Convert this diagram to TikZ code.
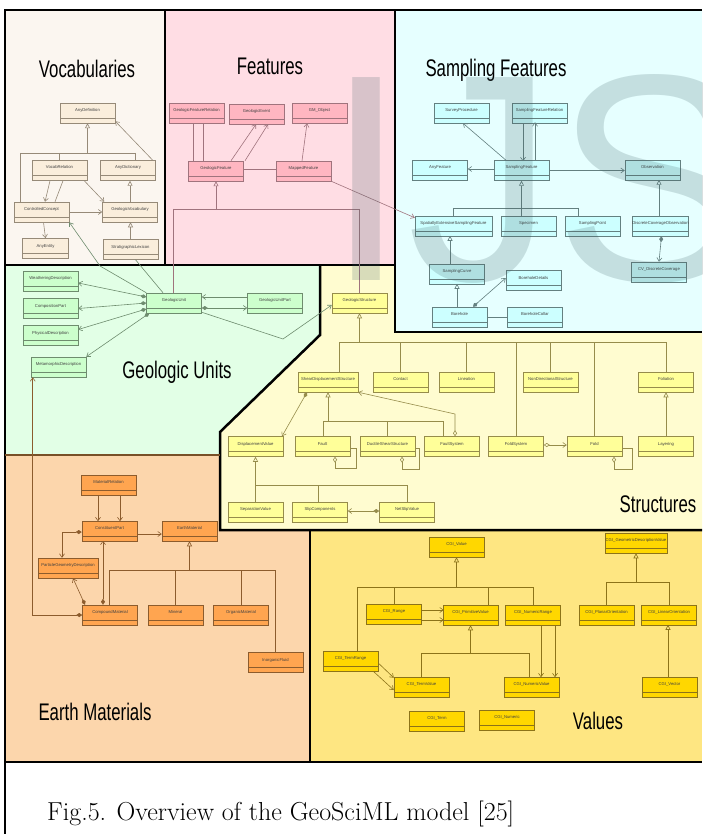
\documentclass[tikz,border=0pt]{standalone}
\usepackage{fontspec}
\newfontfamily\arialfont{Liberation Sans}
\usetikzlibrary{arrows.meta,positioning}
\definecolor{bgvocab}{RGB}{251,246,240}
\definecolor{bgfeat}{RGB}{255,221,228}
\definecolor{bgsamp}{RGB}{230,255,255}
\definecolor{bggeo}{RGB}{226,255,230}
\definecolor{bgstruct}{RGB}{255,252,208}
\definecolor{bgearth}{RGB}{252,214,172}
\definecolor{bgval}{RGB}{254,230,130}
\definecolor{clvocab}{RGB}{250,238,220}
\definecolor{clfeat}{RGB}{255,182,193}
\definecolor{clsamp}{RGB}{204,255,255}
\definecolor{clgeo}{RGB}{204,255,204}
\definecolor{clstruct}{RGB}{255,255,153}
\definecolor{clearth}{RGB}{255,165,80}
\definecolor{clval}{RGB}{255,215,0}
\definecolor{lnvocab}{RGB}{150,138,120}
\definecolor{lnfeat}{RGB}{160,115,125}
\definecolor{lnsamp}{RGB}{100,128,128}
\definecolor{lngeo}{RGB}{110,140,110}
\definecolor{lnstruct}{RGB}{150,140,75}
\definecolor{lnearth}{RGB}{140,92,45}
\definecolor{lnval}{RGB}{140,115,25}
\definecolor{earthedge}{RGB}{120,80,40}
\definecolor{wmark}{RGB}{60,95,100}
\newcommand{\clsfont}{\arialfont\fontsize{4.2}{5}\selectfont}
\newcommand{\titlefont}{\arialfont\fontsize{24}{24}\selectfont}
\newcommand{\regtitle}[1]{\scalebox{0.7}[1]{#1}}

\begin{document}
\begin{tikzpicture}[x=1pt,y=-1pt,node distance=20pt,
  cls/.style 2 args={draw=#2,fill=#1,line width=.5pt,minimum width=55pt,minimum height=20pt,
    inner sep=0pt,text height=3pt,text depth=6pt,font=\clsfont,text=black!75,
    path picture={\draw[#2,line width=.4pt] ([yshift=5pt]path picture bounding box.south west)
      -- ([yshift=5pt]path picture bounding box.south east);}},
  vocabcls/.style={cls={clvocab}{lnvocab}},
  featcls/.style={cls={clfeat}{lnfeat}},
  sampcls/.style={cls={clsamp}{lnsamp}},
  geocls/.style={cls={clgeo}{lngeo}},
  structcls/.style={cls={clstruct}{lnstruct}},
  earthcls/.style={cls={clearth}{lnearth}},
  valcls/.style={cls={clval}{lnval}},
  gen/.style={-{Triangle[open,length=5pt,width=5pt]}},
  nav/.style={-{Straight Barb[length=3.5pt,width=5pt]}},
  comp/.style={{Diamond[length=6pt,width=4pt]}-{Straight Barb[length=3.5pt,width=5pt]}},
  aggr/.style={{Diamond[open,length=6pt,width=4pt]}-{Straight Barb[length=3.5pt,width=5pt]}},
  selfagg/.style={{Diamond[open,length=6pt,width=4pt]}-},
  title/.style={font=\titlefont,inner sep=0pt,anchor=base},
  regionedge/.style={line width=2.5pt,line join=miter}]
  \useasboundingbox (0,0) rectangle (702,834);
  \fill[white] (0,0) rectangle (702,834);
  % regions
  \fill[bgvocab] (5,10) rectangle (165,265);
  \fill[bgfeat] (165,10) rectangle (395,265);
  \fill[bgsamp] (395,10) rectangle (702,332);
  \fill[bggeo] (5,265) -- (320,265) -- (320,335) -- (220,432) -- (220,455) -- (5,455) -- cycle;
  \fill[bgstruct] (320,265) -- (395,265) -- (395,332) -- (702,332) -- (702,530) -- (220,530)
    -- (220,432) -- (320,335) -- cycle;
  \fill[bgearth] (5,455) -- (220,455) -- (220,530) -- (310,530) -- (310,762) -- (5,762) -- cycle;
  \fill[bgval] (310,530) rectangle (702,762);
  \draw[line width=1.2pt] (310,530) -- (310,762);
  \draw[line width=1.2pt] (5,762) -- (702,762);
  \draw[line width=1.2pt] (5,455) -- (5,834);
  \draw[regionedge] (5,10) rectangle (165,265);
  \draw[regionedge] (165,10) rectangle (395,265);
  \draw[regionedge] (395,10) -- (395,332) -- (702,332);
  \draw[regionedge] (395,10) -- (702,10);
  \draw[regionedge] (5,265) -- (5,455);
  \draw[regionedge] (320,265) -- (320,335) -- (220,432) -- (220,530) -- (702,530);
  \draw[earthedge,line width=2pt] (5,455) -- (220,455);

  \node[title] (tVocab) at (87,78) {\regtitle{Vocabularies}};
  \node[title] (tFeat) at (270,75) {\regtitle{Features}};
  \node[title] (tSamp) at (496,77) {\regtitle{Sampling Features}};
  \node[title] (tGeo) at (177,378) {\regtitle{Geologic Units}};
  \node[title] (tStruct) at (658,512) {\regtitle{Structures}};
  \node[title] (tEarth) at (95,720) {\regtitle{Earth Materials}};
  \node[title] (tVal) at (598,729) {\regtitle{Values}};

  % vocabularies
  \node[vocabcls] (anyDef) at (87.5,113) {AnyDefinition};
  \node[vocabcls] (vocabRel) at (59.5,170.5) {VocabRelation};
  \node[vocabcls] (anyDict) at (128,170.5) {AnyDictionary};
  \node[vocabcls] (ctrlConcept) at (41.5,212) {ControlledConcept};
  \node[vocabcls] (geoVocab) at (130,212) {GeologicVocabulary};
  \node[vocabcls,minimum width=46pt] (anyEntity) at (45.5,248.5) {AnyEntity};
  \node[vocabcls] (stratLex) at (130.5,249.5) {StratigraphicLexicon};

  % features
  \node[featcls] (gfRel) at (196.5,113) {GeologicFeatureRelation};
  \node[featcls] (geoEvent) at (256.5,114) {GeologicEvent};
  \node[featcls] (gmObject) at (319.5,113) {GM\_Object};
  \node[featcls] (geoFeature) at (216,171) {GeologicFeature};
  \node[featcls] (mappedFeature) at (303.5,171) {MappedFeature};

  % sampling features
  \node[sampcls] (surveyProc) at (461.5,113) {SurveyProcedure};
  \node[sampcls] (sfRel) at (539.5,113) {SamplingFeatureRelation};
  \node[sampcls] (samplingFeature) at (521.5,170.5) {SamplingFeature};
  \node[sampcls,left=26pt of samplingFeature] (anyFeature) {AnyFeature};
  \node[sampcls] (observation) at (652.5,170.5) {Observation};
  \node[sampcls,minimum width=77pt] (sesf) at (453.5,226) {SpatiallyExtensiveSamplingFeature};
  \node[sampcls] (specimen) at (528.5,226) {Specimen};
  \node[sampcls] (samplingPoint) at (592.5,226) {SamplingPoint};
  \node[sampcls] (dco) at (660.5,226) {DiscreteCoverageObservation};
  \node[sampcls] (samplingCurve) at (457,274) {SamplingCurve};
  \node[sampcls] (boreholeDetails) at (533.5,280.5) {BoreholeDetails};
  \node[sampcls] (cvDC) at (659,272) {CV\_DiscreteCoverage};
  \node[sampcls] (borehole) at (459.5,317) {Borehole};
  \node[sampcls,right=of borehole] (boreholeCollar) {BoreholeCollar};

  % geologic units
  \node[geocls] (weathering) at (50.5,281) {WeatheringDescription};
  \node[geocls] (compositionPart) at (50.5,308.5) {CompositionPart};
  \node[geocls] (physicalDesc) at (50.5,335.5) {PhysicalDescription};
  \node[geocls] (metamorphicDesc) at (58.5,367) {MetamorphicDescription};
  \node[geocls] (geoUnit) at (174,303) {GeologicUnit};
  \node[geocls] (geoUnitPart) at (275,303) {GeologicUnitPart};

  % structures
  \node[structcls] (geoStructure) at (359.5,303) {GeologicStructure};
  \node[structcls,minimum width=60pt] (sds) at (328,382) {ShearDisplacementStructure};
  \node[structcls] (contact) at (400.5,382) {Contact};
  \node[structcls] (lineation) at (466.5,382) {Lineation};
  \node[structcls] (nonDir) at (550.5,382) {NonDirectionalStructure};
  \node[structcls] (foliation) at (666,382) {Foliation};
  \node[structcls] (displacementValue) at (255.5,446.5) {DisplacementValue};
  \node[structcls] (fault) at (322.5,446.5) {Fault};
  \node[structcls] (ductile) at (387.5,446.5) {DuctileShearStructure};
  \node[structcls] (faultSystem) at (452,446.5) {FaultSystem};
  \node[structcls] (foldSystem) at (516,446.5) {FoldSystem};
  \node[structcls] (fold) at (594.5,446.5) {Fold};
  \node[structcls] (layering) at (666,446.5) {Layering};
  \node[structcls] (separationValue) at (255.5,512) {SeparationValue};
  \node[structcls] (slipComponents) at (320,512) {SlipComponents};
  \node[structcls] (netSlip) at (407,512) {NetSlipValue};

  % earth materials
  \node[earthcls] (materialRelation) at (108.5,485) {MaterialRelation};
  \node[earthcls] (constituentPart) at (109.5,531) {ConstituentPart};
  \node[earthcls] (earthMaterial) at (189.5,531) {EarthMaterial};
  \node[earthcls,minimum width=60pt] (particleGeom) at (68,568) {ParticleGeometryDescription};
  \node[earthcls] (compoundMaterial) at (110,615) {CompoundMaterial};
  \node[earthcls] (mineral) at (175.5,615) {Mineral};
  \node[earthcls] (organicMaterial) at (241,615) {OrganicMaterial};
  \node[earthcls] (inorganicFluid) at (275.5,662.5) {InorganicFluid};

  % values
  \node[valcls] (cgiValue) at (456.5,547) {CGI\_Value};
  \node[valcls,minimum width=62pt] (cgiGeomDesc) at (636,543) {CGI\_GeometricDescriptionValue};
  \node[valcls] (cgiRange) at (394,614) {CGI\_Range};
  \node[valcls] (cgiPrimitive) at (470.5,615) {CGI\_PrimitiveValue};
  \node[valcls] (cgiNumRange) at (533,615) {CGI\_NumericRange};
  \node[valcls] (cgiPlanar) at (606.5,615) {CGI\_PlanarOrientation};
  \node[valcls] (cgiLinear) at (669,615) {CGI\_LinearOrientation};
  \node[valcls] (cgiTermRange) at (350.5,661) {CGI\_TermRange};
  \node[valcls] (cgiTermValue) at (421.5,687) {CGI\_TermValue};
  \node[valcls] (cgiNumValue) at (531.5,687) {CGI\_NumericValue};
  \node[valcls] (cgiVector) at (669.5,687) {CGI\_Vector};
  \node[valcls] (cgiTerm) at (437,721) {CGI\_Term};
  \node[valcls] (cgiNumeric) at (507,720) {CGI\_Numeric};

  \begin{scope}[color=lnvocab,line width=.6pt]
    \draw[gen] (anyDef.south |- 0,153) -- (anyDef.south);
    \draw (20,153) -- (135,153);
    \draw (20,153) -- (20,153 |- ctrlConcept.north);
    \draw (vocabRel.north |- 0,153) -- (vocabRel.north);
    \draw (135,153) -- (135,153 |- anyDict.north);
    \draw[nav] ([xshift=-3pt]anyDict.north east) -- ([yshift=2pt]anyDef.south east);
    \draw[nav] ([xshift=-9.5pt]vocabRel.south) -- ([xshift=3.5pt]ctrlConcept.north);
    \draw ([xshift=3.5pt]vocabRel.south) -- ([xshift=13.5pt]ctrlConcept.north);
    \draw[nav] ([xshift=-3pt]vocabRel.south east) -- ([xshift=2pt]geoVocab.north west);
    \draw[nav] (ctrlConcept.east) -- (geoVocab.west);
    \draw[gen] (stratLex.north) -- (stratLex.north |- geoVocab.south);
    \draw[gen] (geoVocab.north) -- (geoVocab.north |- anyDict.south);
    \draw[nav] ([xshift=2pt]ctrlConcept.south) -- (anyEntity.north);
  \end{scope}

  \begin{scope}[color=lnfeat,line width=.6pt]
    \draw ([xshift=-3.5pt]gfRel.south) -- ++(0,38);
    \draw ([xshift=6.5pt]gfRel.south) -- ++(0,38);
    \draw[nav] ([xshift=15pt]geoFeature.north) -- ([xshift=-0.5pt]geoEvent.south);
    \draw[nav] ([xshift=29pt]geoFeature.north) -- ([xshift=11.5pt]geoEvent.south);
    \draw[nav] ([xshift=-1.5pt]mappedFeature.north) -- ([xshift=-12.5pt]gmObject.south);
    \draw ([yshift=2pt]geoFeature.east) -- ([yshift=2pt]mappedFeature.west);
    \draw[gen] (geoFeature.south |- 0,209) -- (geoFeature.south);
    \draw (173,209) -- (geoStructure.north |- 0,209);
    \draw (173,209) -- (173,209 |- geoUnit.north);
    \draw (geoStructure.north |- 0,209) -- (geoStructure.north);
    \draw[nav] (mappedFeature.south east) -- ([yshift=-2pt]sesf.north west);
  \end{scope}

  \begin{scope}[color=lnsamp,line width=.6pt]
    \draw[nav] ([xshift=-15.5pt]samplingFeature.north) -- ([xshift=1.5pt]surveyProc.south);
    \draw[nav] ([xshift=-16.5pt]sfRel.south) -- ++(0,38);
    \draw[nav] ([xshift=13.5pt]samplingFeature.north) -- ++(0,-38);
    \draw[nav] ([yshift=1.5pt]samplingFeature.west) -- ([yshift=1.5pt]anyFeature.east);
    \draw[nav] (samplingFeature.east) -- (observation.west);
    \draw[gen] (samplingFeature.south |- 0,208) -- (samplingFeature.south);
    \draw (sesf.north |- 0,208) -- (578,208);
    \draw (sesf.north |- 0,208) -- (sesf.north);
    \draw (samplingFeature.south |- 0,208) -- (samplingFeature.south |- specimen.north);
    \draw (578,208) -- (578,208 |- samplingPoint.north);
    \draw[gen] ([xshift=-1.5pt]dco.north) -- ++(0,-36);
    \draw[comp] ([xshift=1pt]dco.south) -- (cvDC.north);
    \draw[gen] ([xshift=-7pt]samplingCurve.north) -- ++(0,-28);
    \draw[gen] ([xshift=-2.5pt]borehole.north) -- ++(0,-23);
    \draw[comp] ([xshift=13.5pt]borehole.north) -- ([yshift=2.5pt]boreholeDetails.west);
    \draw (borehole.east) -- (boreholeCollar.west);
  \end{scope}

  \begin{scope}[color=lngeo,line width=.6pt]
    \draw[comp] ([yshift=6pt]geoUnit.west) -- ([yshift=-2pt]weathering.east);
    \draw[comp] (geoUnit.west) -- (compositionPart.east);
    \draw[comp] ([yshift=-6pt]geoUnit.west) -- ([yshift=6pt]physicalDesc.east);
    \draw[comp] ([xshift=3pt]geoUnit.south west) -- (metamorphicDesc.north east);
    \draw[nav] ([yshift=6pt]geoUnitPart.west) -- ([yshift=6pt]geoUnit.east);
    \draw[comp] ([yshift=-5pt]geoUnit.east) -- ([yshift=-5pt]geoUnitPart.west);
    \draw[nav] ([yshift=1pt]geoUnit.south east) -- (283,339) -- ([yshift=-2pt]geoStructure.west);
    \draw[nav] (geoUnit.north west) -- (100,266) -- (ctrlConcept.south east);
    \draw ([xshift=-11pt]geoUnit.north) -- ([xshift=5pt]stratLex.south);
  \end{scope}

  \begin{scope}[color=lnstruct,line width=.6pt]
    \draw[gen] (geoStructure.south |- 0,342) -- (geoStructure.south);
    \draw (339,342) -- (foliation.north |- 0,342);
    \draw (339,342) -- (339,342 |- sds.north);
    \draw (contact.north |- 0,342) -- (contact.north);
    \draw (lineation.north |- 0,342) -- (lineation.north);
    \draw (foldSystem.north |- 0,342) -- (foldSystem.north);
    \draw (nonDir.north |- 0,342) -- (nonDir.north);
    \draw (fold.north |- 0,342) -- (fold.north);
    \draw (foliation.north |- 0,342) -- (foliation.north);
    \draw[gen] (sds.south |- 0,421) -- (sds.south);
    \draw (323,421) -- (443,421);
    \draw (323,421) -- (323,421 |- fault.north);
    \draw (ductile.north |- 0,421) -- (ductile.north);
    \draw (443,421) -- (443,421 |- faultSystem.north);
    \draw[comp] ([xshift=-21pt]sds.south) -- ([xshift=26.5pt]displacementValue.north);
    \draw[aggr] ([xshift=3pt]faultSystem.north) -- (455,414) -- (sds.south east);
    \draw[selfagg] ([xshift=12.5pt]fault.south) -- ++(0,12) -| ([xshift=6pt,yshift=-1.5pt]fault.east)
      -- ([yshift=-1.5pt]fault.east);
    \draw[selfagg] ([xshift=14.5pt]ductile.south) -- ++(0,12.5) -| ([xshift=4pt,yshift=-1.5pt]ductile.east)
      -- ([yshift=-1.5pt]ductile.east);
    \draw[selfagg] ([xshift=19.5pt]fold.south) -- ++(0,12.5) -| ([xshift=10pt,yshift=-1.5pt]fold.east)
      -- ([yshift=-1.5pt]fold.east);
    \draw[aggr] ([yshift=1.5pt]foldSystem.east) -- ([yshift=1.5pt]fold.west);
    \draw[gen] (layering.north) -- (foliation.south);
    \draw[gen] (displacementValue.south |- 0,485) -- (displacementValue.south);
    \draw (displacementValue.south |- 0,485) -- (netSlip.north |- 0,485);
    \draw (separationValue.north |- 0,485) -- (separationValue.north);
    \draw (318,485) -- (318,485 |- slipComponents.north);
    \draw (netSlip.north |- 0,485) -- (netSlip.north);
    \draw[comp] ([yshift=1pt]netSlip.west) -- ([yshift=1pt]slipComponents.east);
  \end{scope}

  \begin{scope}[color=lnearth,line width=.6pt]
    \draw[nav] ([xshift=-10.5pt]materialRelation.south) -- ++(0,26);
    \draw[nav] ([xshift=11.5pt]materialRelation.south) -- ++(0,26);
    \draw[nav] ([yshift=-3pt]constituentPart.east) -- ([yshift=-3pt]earthMaterial.west);
    \draw[comp] ([yshift=-1pt]constituentPart.west) -| ([xshift=-6pt]particleGeom.north);
    \draw[comp] ([xshift=-7pt]compoundMaterial.north) -- ++(0,-64);
    \draw[comp] ([xshift=-25pt]compoundMaterial.north) -- ([xshift=5pt]particleGeom.south);
    \draw[comp] (compoundMaterial.west) -| ([xshift=2pt]metamorphicDesc.south west);
    \draw[gen] (earthMaterial.south |- 0,570) -- (earthMaterial.south);
    \draw (109,570) -- (275,570);
    \draw (109,570) -- (109,570 |- compoundMaterial.north);
    \draw (mineral.north |- 0,570) -- (mineral.north);
    \draw (organicMaterial.north |- 0,570) -- (organicMaterial.north);
    \draw (275,570) -- (275,570 |- inorganicFluid.north);
  \end{scope}

  \begin{scope}[color=lnval,line width=.6pt]
    \draw[gen] (cgiValue.south |- 0,587) -- (cgiValue.south);
    \draw (357,587) -- (cgiNumRange.north |- 0,587);
    \draw (357,587) -- (357,587 |- cgiTermRange.north);
    \draw (cgiRange.north |- 0,587) -- (cgiRange.north);
    \draw (488,587) -- (488,587 |- cgiPrimitive.north);
    \draw (cgiNumRange.north |- 0,587) -- (cgiNumRange.north);
    \draw[nav] ([yshift=4pt]cgiRange.east) -- ++(22,0);
    \draw[nav] ([yshift=-6pt]cgiRange.east) -- ++(22,0);
    \draw[gen] (cgiPrimitive.south |- 0,653) -- (cgiPrimitive.south);
    \draw (cgiTermValue.north |- 0,653) -- (529,653);
    \draw (cgiTermValue.north |- 0,653) -- (cgiTermValue.north);
    \draw (529,653) -- (529,653 |- cgiNumValue.north);
    \draw[nav] ([xshift=8pt]cgiNumRange.south) -- ++(0,52);
    \draw[nav] ([xshift=22pt]cgiNumRange.south) -- ++(0,52);
    \draw[nav] ([yshift=-2pt]cgiTermRange.east) -- ([yshift=-1pt]cgiTermValue.north west);
    \draw[nav] ([xshift=-5pt]cgiTermRange.south east) -- ([yshift=-3pt]cgiTermValue.west);
    \draw[gen] (cgiGeomDesc.south |- 0,582) -- (cgiGeomDesc.south);
    \draw (cgiPlanar.north |- 0,582) -- (cgiLinear.north |- 0,582);
    \draw (cgiPlanar.north |- 0,582) -- (cgiPlanar.north);
    \draw (cgiLinear.north |- 0,582) -- (cgiLinear.north);
    \draw[gen] ([xshift=-1.5pt]cgiVector.north) -- ++(0,-52);
  \end{scope}

  \node[anchor=base west,inner sep=0pt,font=\arialfont\fontsize{295}{295}\selectfont,
    text=wmark,text opacity=0.2] (logo) at (325,280) {IJS};
  \node[anchor=base west,inner sep=0pt,font=\fontsize{26}{30}\selectfont] (caption) at (47,820)
    {Fig.5. Overview of the GeoSciML model [25]};
\end{tikzpicture}
\end{document}
